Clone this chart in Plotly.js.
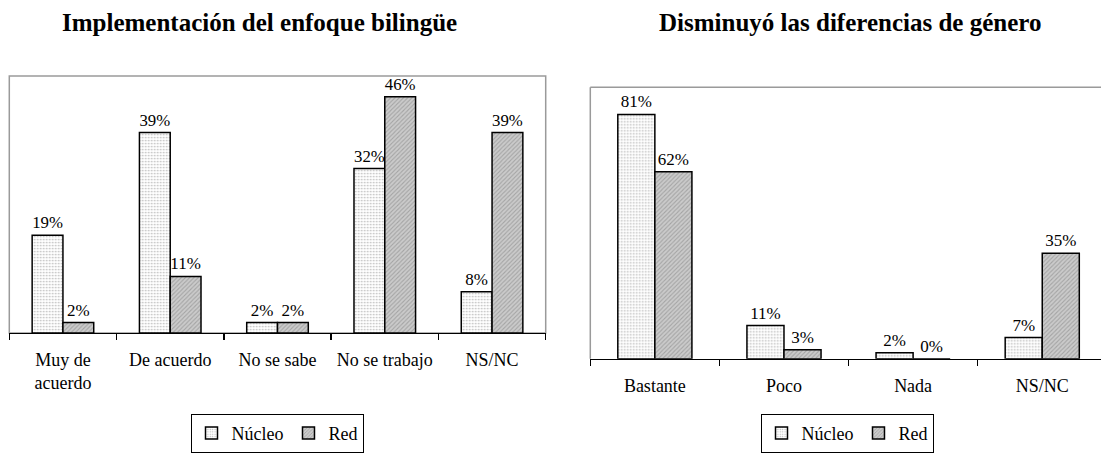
<!DOCTYPE html>
<html>
<head>
<meta charset="utf-8">
<script src="https://cdn.plot.ly/plotly-3.0.1.min.js"></script>
<style>
html, body { margin: 0; padding: 0; overflow: hidden; background: #fff; }
#chart { width: 1101px; height: 453px; }
</style>
</head>
<body>
<div id="chart"></div>
<script>
// Chart 1: Implementación del enfoque bilingüe
const cats1 = ["Muy de<br>acuerdo", "De acuerdo", "No se sabe", "No se trabajo", "NS/NC"];
const nucleo1 = [19, 39, 2, 32, 8];
const red1 = [2, 11, 2, 46, 39];

// Chart 2: Disminuyó las diferencias de género
const cats2 = ["Bastante", "Poco", "Nada", "NS/NC"];
const nucleo2 = [81, 11, 2, 7];
const red2 = [62, 3, 0, 35];

const seriesNames = ["Núcleo", "Red"];
const titles = ["Implementación del enfoque bilingüe", "Disminuyó las diferencias de género"];

const W = 1101, H = 453;
const FONT = "Liberation Serif";

const nucleoMarker = {
  color: "#ffffff",
  line: { color: "#000", width: 1.5 },
  pattern: { shape: ".", fgcolor: "#b8b8b8", bgcolor: "#ffffff", size: 3, solidity: 0.25 }
};
const redMarker = {
  color: "#c4c4c4",
  line: { color: "#000", width: 1.5 },
  pattern: { shape: "/", fgcolor: "#a4a4a4", bgcolor: "#cbcbcb", size: 3, solidity: 0.35 }
};

function bar(x, y, name, marker, xa, ya, legend) {
  return {
    type: "bar", x: x, y: y, name: name, marker: marker,
    xaxis: xa, yaxis: ya, legend: legend, showlegend: true,
    texttemplate: "%{y}%", textposition: "outside", cliponaxis: false,
    textfont: { family: FONT, size: 17, color: "#000" },
    hoverinfo: "skip"
  };
}

const data = [
  bar(cats1, nucleo1, seriesNames[0], nucleoMarker, "x", "y", "legend"),
  bar(cats1, red1, seriesNames[1], redMarker, "x", "y", "legend"),
  bar(cats2, nucleo2, seriesNames[0], nucleoMarker, "x2", "y2", "legend2"),
  bar(cats2, red2, seriesNames[1], redMarker, "x2", "y2", "legend2")
];

// plot areas in pixels
const p1 = { x0: 9.3, x1: 545.7, y0: 78.7, y1: 344.3 };
const p2 = { x0: 590.3, x1: 1101, y0: 90.3, y1: 371 };
const catW2 = 129.125; // px per category on the right chart (chart is cut by the image edge)
const fx = v => v / W, fy = v => 1 - v / H;

const xCommon = {
  type: "category", showline: true, linecolor: "#000", linewidth: 1.5,
  ticks: "outside", tickson: "boundaries", ticklen: 6, tickcolor: "#000", tickwidth: 1.5,
  showgrid: false, zeroline: false, fixedrange: true,
  tickfont: { family: FONT, size: 18, color: "#000" }, ticklabelstandoff: 10
};
const yCommon = { showgrid: false, zeroline: false, showticklabels: false, ticks: "", showline: false, fixedrange: true };

const legendCommon = {
  orientation: "h", xanchor: "center", yanchor: "top",
  bordercolor: "#000", borderwidth: 1, bgcolor: "#fff",
  font: { family: FONT, size: 18, color: "#000" }, itemwidth: 30, tracegroupgap: 0
};

const frameLine = { color: "#9a9a9a", width: 1.5 };

const layout = {
  width: W, height: H, margin: { l: 0, r: 0, t: 0, b: 0 },
  paper_bgcolor: "#fff", plot_bgcolor: "#fff",
  barmode: "group", bargap: 0.426, bargroupgap: 0,
  font: { family: FONT, color: "#000" },
  xaxis: Object.assign({}, xCommon, { domain: [fx(p1.x0), fx(p1.x1)], anchor: "y" }),
  yaxis: Object.assign({}, yCommon, { domain: [fy(p1.y1), fy(p1.y0)], range: [0, 50], anchor: "x" }),
  xaxis2: Object.assign({}, xCommon, { domain: [fx(p2.x0), 1], anchor: "y2",
    range: [-0.5, -0.5 + (p2.x1 - p2.x0) / catW2] }),
  yaxis2: Object.assign({}, yCommon, { domain: [fy(p2.y1), fy(p2.y0)], range: [0, 90], anchor: "x2" }),
  legend: Object.assign({}, legendCommon, { x: fx(277), y: fy(428) }),
  legend2: Object.assign({}, legendCommon, { x: fx(847), y: fy(428) }),
  shapes: [
    { type: "rect", xref: "paper", yref: "paper", x0: fx(p1.x0), x1: fx(p1.x1), y0: fy(p1.y1), y1: fy(p1.y0),
      line: frameLine, layer: "below" },
    { type: "line", xref: "paper", yref: "paper", x0: fx(p2.x0), x1: fx(p2.x0), y0: fy(p2.y1), y1: fy(p2.y0),
      line: frameLine, layer: "below" },
    { type: "line", xref: "paper", yref: "paper", x0: fx(p2.x0), x1: 1, y0: fy(p2.y0), y1: fy(p2.y0),
      line: frameLine, layer: "below" }
  ],
  annotations: [
    { text: "<b>" + titles[0] + "</b>", xref: "paper", yref: "paper", x: fx(259), y: fy(23),
      xanchor: "center", yanchor: "middle", showarrow: false, font: { family: FONT, size: 25, color: "#000" } },
    { text: "<b>" + titles[1] + "</b>", xref: "paper", yref: "paper", x: fx(850), y: fy(23),
      xanchor: "center", yanchor: "middle", showarrow: false, font: { family: FONT, size: 25, color: "#000" } }
  ]
};

Plotly.newPlot("chart", data, layout, { displayModeBar: false, staticPlot: true });
</script>
</body>
</html>
